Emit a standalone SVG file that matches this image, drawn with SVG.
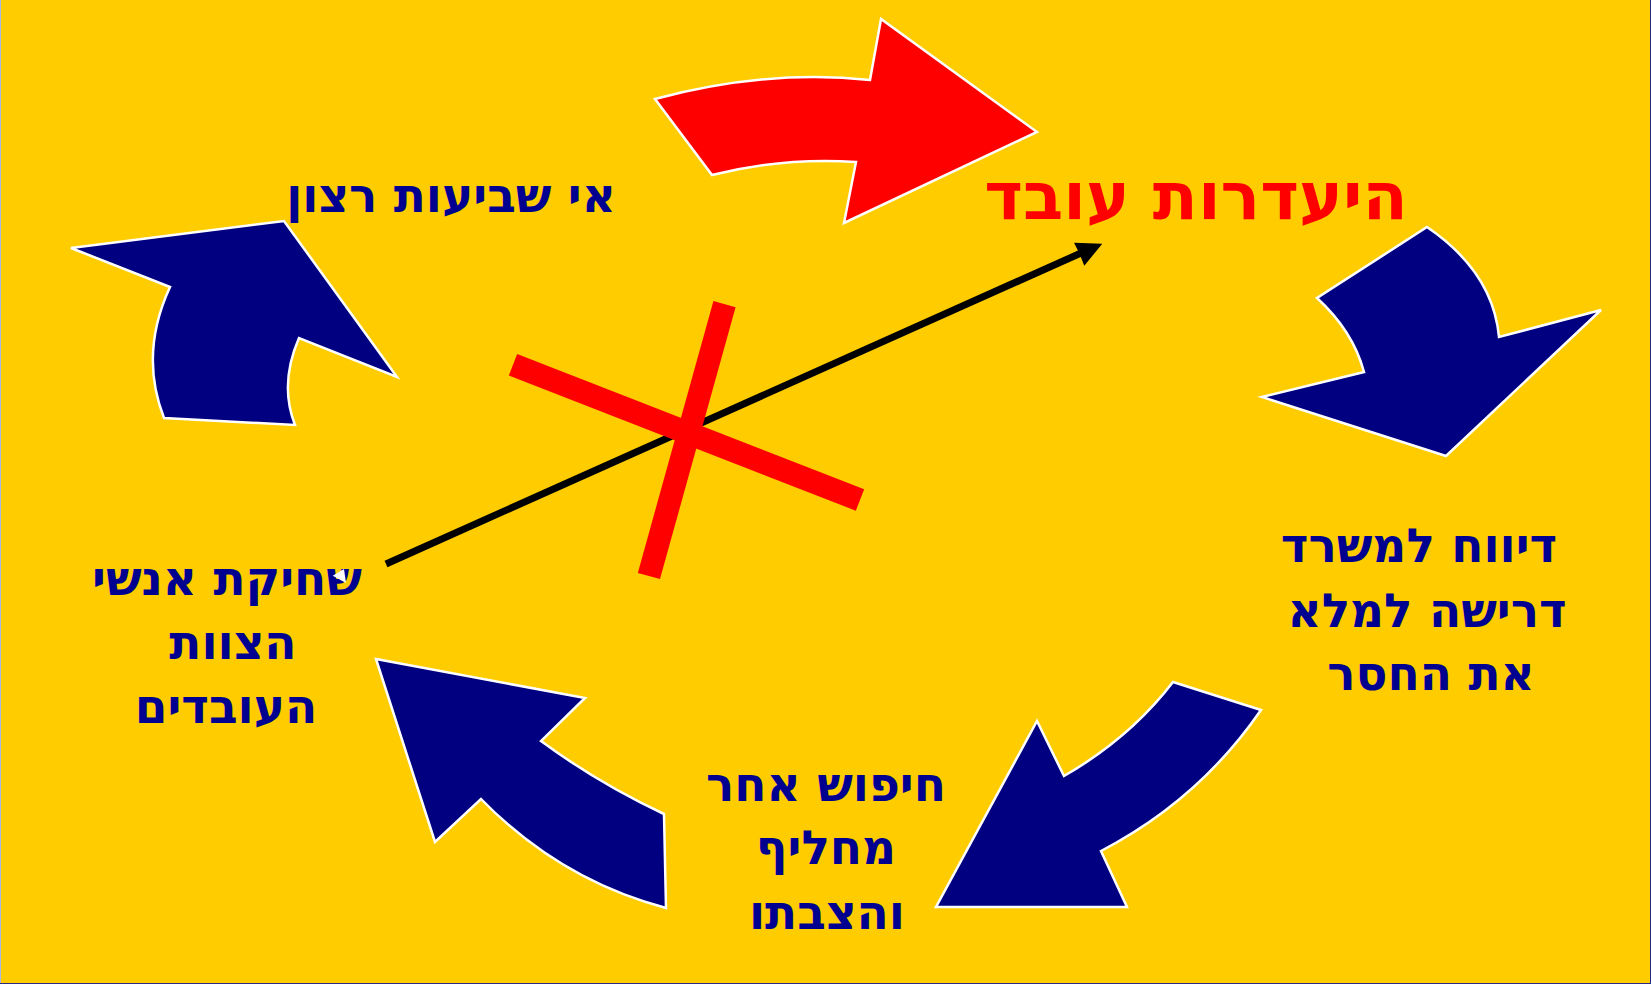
<svg xmlns="http://www.w3.org/2000/svg" width="1651" height="984" viewBox="0 0 1651 984">
<style>
.bg{fill:#FFCC00}
.arr{stroke:#FFFFFF;stroke-width:2.5;stroke-linejoin:miter}
.navy{fill:#000080}
.red{fill:#FF0000}
.lbl{font-family:"DejaVu Sans","Liberation Sans",sans-serif;font-weight:bold;font-size:47px;fill:#000090;text-anchor:middle}
.title{font-family:"DejaVu Sans","Liberation Sans",sans-serif;font-weight:bold;font-size:66px;fill:#FF0000;text-anchor:middle}
.bar{stroke:#FF0000;stroke-width:23;fill:none}
</style>
<rect class="bg" x="0" y="0" width="1651" height="984"/>
<line x1="0.5" y1="0" x2="0.5" y2="984" stroke="#A8B8E8" stroke-width="1"/>
<line x1="1650.5" y1="0" x2="1650.5" y2="984" stroke="#2A2A80" stroke-width="1"/>
<line x1="0" y1="983.5" x2="1651" y2="983.5" stroke="#2A2A80" stroke-width="1"/>

<g id="arrow-top">
<path class="arr red" d="M655,99 Q767,69 870,80 L881,19 L1037,132 L844,223 L856,162 Q784,157 712,175 Z"/>
</g>
<g id="arrow-right">
<path class="arr navy" d="M1427,227 Q1493,272 1499,337 L1601,310 L1446,456 L1262,397 L1364,372 Q1353,331 1317,298 Z"/>
</g>
<g id="arrow-bottom-right">
<path class="arr navy" d="M1173,682 L1261,710 Q1199,800 1101,851 L1127,907 L936,907 L1037,721 L1064,776 Q1130,738 1173,682 Z"/>
</g>
<g id="arrow-bottom-left">
<path class="arr navy" d="M376,659 L585,698 L541,741 Q598,783 664,814 L666,908 Q560,880 481,799 L435,842 Z"/>
</g>
<g id="arrow-top-left">
<path class="arr navy" d="M71,248 L284,221 L397,377 L299,338 Q279,384 295,425 L164,418 Q139,354 170,287 Z"/>
</g>

<g id="node-title">
<text class="title" x="1196" y="219">היעדרות עובד</text>
</g>
<g id="node-dissatisfaction">
<text class="lbl" x="451" y="212">אי שביעות רצון</text>
</g>
<g id="node-report">
<text class="lbl" x="1419" y="562">דיווח למשרד</text>
<text class="lbl" x="1427" y="627">דרישה למלא</text>
<text class="lbl" x="1431" y="690">את החסר</text>
</g>
<g id="node-search">
<text class="lbl" x="826" y="801">חיפוש אחר</text>
<text class="lbl" x="826" y="864">מחליף</text>
<text class="lbl" x="827" y="929">והצבתו</text>
</g>
<g id="node-burnout">
<text class="lbl" x="227" y="595">שחיקת אנשי</text>
<text class="lbl" x="233" y="659">הצוות</text>
<text class="lbl" x="226" y="723">העובדים</text>
</g>
<polygon points="332.7,575.7 344,569 346,583" fill="#FFFFFF"/>

<g id="connectors">
<line x1="386" y1="564" x2="1081" y2="253" stroke="#000000" stroke-width="7"/>
<polygon points="1074,242.7 1102.3,243.7 1084.3,265.7 1079.3,253.3" fill="#000000"/>
</g>
<g id="cross">
<line class="bar" x1="513" y1="364.7" x2="860" y2="500"/>
<line class="bar" x1="724.5" y1="304.2" x2="648.9" y2="576"/>
</g>
</svg>
